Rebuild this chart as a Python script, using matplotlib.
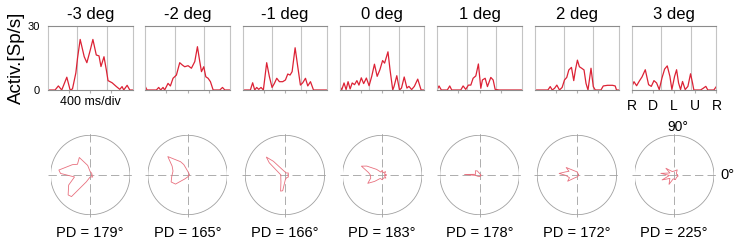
import numpy as np
import matplotlib.pyplot as plt
from matplotlib.patches import Circle

plt.rcParams['font.family'] = ['Liberation Sans', 'DejaVu Sans']

titles = ['-3 deg', '-2 deg', '-1 deg', '0 deg', '1 deg', '2 deg', '3 deg']
pd_deg = [179, 165, 166, 183, 178, 172, 225]
dir_labels = ['R', 'D', 'L', 'U', 'R']

# firing rate traces: time (ms) and rate (Sp/s)
t_m3 = [0, 96, 141, 187, 256, 301, 333, 379, 402, 438, 493, 529, 575, 611, 657, 694, 721, 762, 794, 817, 872, 931, 977, 1008, 1031, 1077, 1113, 1150]
rate_m3 = [0, 0, 1.9, 0, 6, 0, 0.5, 8, 15, 23.7, 15.6, 12.8, 18.7, 23.7, 16.4, 16, 11, 15.6, 9.4, 4.4, 3.4, 1.6, 0.3, 1.6, 0, 2.2, 0, 0]

t_m2 = [0, 23, 150, 182, 209, 241, 263, 309, 341, 377, 423, 468, 504, 536, 582, 627, 673, 709, 741, 764, 795, 823, 854, 886, 923, 1014, 1050, 1082, 1150]
rate_m2 = [1.6, 0, 0, 1.2, 0, 1.2, 0, 3.1, 1.9, 5.5, 7, 12.8, 11.7, 10.9, 11.4, 10.2, 13.3, 20.3, 13.3, 8.6, 10.9, 6.2, 5.5, 3.9, 0, 0, 1.2, 0, 0]

t_m1 = [0, 105, 136, 164, 191, 218, 250, 282, 327, 364, 400, 432, 464, 500, 545, 582, 614, 645, 673, 714, 750, 786, 818, 855, 886, 923, 964, 1150]
rate_m1 = [0, 0, 3.4, 0, 1.2, 0.3, 1.2, 0, 12.8, 6.2, 1.2, 3.1, 5.5, 3.9, 3.9, 4.7, 7.5, 7, 8.6, 19.8, 10.9, 2.3, 3.4, 5.5, 1.9, 3.9, 0, 0]

t_0 = [0, 23, 55, 83, 110, 138, 166, 198, 230, 258, 290, 322, 359, 396, 432, 469, 506, 543, 580, 607, 653, 681, 718, 736, 773, 810, 837, 874, 911, 938, 975, 1012, 1058, 1104, 1150]
rate_0 = [1.7, 0, 3.3, 0.2, 3.9, 0.5, 3.3, 2.5, 4.4, 2.3, 5.7, 3.0, 5.6, 2.0, 6.4, 12.1, 6.4, 9.5, 13.8, 12.6, 17.9, 9.5, 0, 1.7, 6.7, 0, 0.9, 6.1, 0.9, 1.7, 0.2, 1.7, 5.1, 0, 0]

t_p1 = [0, 23, 55, 136, 169, 196, 319, 351, 387, 423, 456, 487, 524, 559, 592, 614, 651, 682, 728, 760, 787, 841, 1150]
rate_p1 = [0.3, 1.9, 0, 0, 1.9, 0, 0, 1.9, 0.3, 2.3, 2.3, 5.5, 6.6, 12.2, 0.8, 4.7, 5.5, 1.6, 5.9, 4.7, 0.3, 0, 0]

t_p2 = [0, 180, 212, 239, 271, 302, 338, 374, 406, 437, 465, 501, 532, 555, 582, 609, 640, 672, 699, 726, 767, 798, 825, 902, 934, 992, 1060, 1096, 1114, 1150]
rate_p2 = [0, 0, 1.6, 0, 0.8, 2.3, 0, 1.2, 4.7, 5.9, 9.4, 10.6, 4.4, 9.4, 14, 10.9, 10.2, 9.4, 3.1, 0, 10.2, 1.6, 0, 0, 1.9, 2.2, 2.2, 1.9, 0, 0]

t_p3 = [0, 27, 63, 100, 136, 181, 226, 263, 299, 335, 371, 408, 444, 480, 516, 543, 580, 607, 634, 661, 688, 724, 761, 797, 824, 842, 933, 969, 1005, 1032, 1114, 1150]
rate_p3 = [1.7, 3.9, 2.0, 4.2, 6.1, 9.5, 2.5, 1.7, 4.4, 3.3, 0.2, 5.6, 9.8, 11.3, 6.4, 0.2, 6.4, 9.5, 3.3, 0.2, 4.0, 0.2, 1.7, 7.6, 3.3, 0, 0, 0.8, 1.7, 0, 0, 1.7]

# directional tuning (angle deg, normalised response)
dir_m3 = [0, 30, 60, 90, 105, 122, 140, 150, 171, 177, 187, 205, 222, 229, 240, 260, 290, 320, 345]
tune_m3 = [0.04, 0.05, 0.06, 0.08, 0.25, 0.52, 0.42, 0.52, 0.8, 0.75, 0.4, 0.6, 0.75, 0.72, 0.2, 0.06, 0.05, 0.08, 0.04]

dir_m2 = [0, 45, 90, 110, 118, 137, 150, 165, 185, 203, 217, 235, 270, 315]
tune_m2 = [0.04, 0.05, 0.1, 0.28, 0.38, 0.68, 0.45, 0.38, 0.4, 0.45, 0.38, 0.12, 0.05, 0.04]

dir_m1 = [0, 30, 60, 90, 115, 130, 136, 142, 155, 180, 210, 240, 255, 262, 275, 300, 330]
tune_m1 = [0.08, 0.1, 0.06, 0.08, 0.15, 0.45, 0.65, 0.5, 0.2, 0.1, 0.12, 0.2, 0.42, 0.4, 0.12, 0.08, 0.1]

dir_0 = [0, 20, 45, 70, 90, 115, 135, 150, 157, 170, 180, 195, 210, 220, 240, 270, 300, 320, 340]
tune_0 = [0.1, 0.06, 0.12, 0.06, 0.12, 0.08, 0.2, 0.45, 0.57, 0.35, 0.3, 0.3, 0.42, 0.25, 0.1, 0.12, 0.08, 0.12, 0.06]

dir_p1 = [0, 90, 120, 135, 150, 170, 178, 186, 210, 270, 320]
tune_p1 = [0.03, 0.04, 0.12, 0.15, 0.12, 0.1, 0.38, 0.1, 0.06, 0.04, 0.04]

dir_p2 = [0, 60, 90, 120, 145, 155, 165, 175, 182, 200, 214, 230, 270, 320]
tune_p2 = [0.04, 0.05, 0.08, 0.12, 0.33, 0.22, 0.3, 0.45, 0.28, 0.2, 0.28, 0.1, 0.05, 0.04]

dir_p3 = [0, 30, 60, 90, 120, 141, 155, 173, 185, 202, 218, 241, 255, 285, 315, 340]
tune_p3 = [0.08, 0.06, 0.15, 0.1, 0.1, 0.27, 0.12, 0.34, 0.12, 0.33, 0.14, 0.27, 0.1, 0.12, 0.08, 0.1]

times = [t_m3, t_m2, t_m1, t_0, t_p1, t_p2, t_p3]
rates = [rate_m3, rate_m2, rate_m1, rate_0, rate_p1, rate_p2, rate_p3]
dirs = [dir_m3, dir_m2, dir_m1, dir_0, dir_p1, dir_p2, dir_p3]
tunes = [tune_m3, tune_m2, tune_m1, tune_0, tune_p1, tune_p2, tune_p3]

W, H = 736, 241
fig = plt.figure(figsize=(W / 100, H / 100), dpi=100)

red = '#dc2235'
light_red = '#e8707e'
grey = '#a0a0a0'
x0, step, pw = 48, 97.33, 84.5

for i in range(7):
    left = x0 + i * step
    ax = fig.add_axes([left / W, (H - 90) / H, pw / W, 64 / H])
    ax.plot(times[i], rates[i], color=red, lw=0.9)
    ax.set_xlim(0, 1150)
    ax.set_ylim(0, 30)
    for g in [400, 800]:
        ax.axvline(g, color='#c4c4c4', lw=0.8, zorder=0)
    ax.spines['top'].set_color('#8c8c8c')
    ax.spines['bottom'].set_color('#8c8c8c')
    ax.spines['left'].set_color('#c4c4c4')
    ax.spines['right'].set_color('#c4c4c4')
    for s in ax.spines.values():
        s.set_linewidth(0.8)
    ax.set_xticks([287.5, 575, 862.5] if i < 6 else [0, 287.5, 575, 862.5, 1150])
    ax.tick_params(axis='x', length=2.5, color='#b0b0b0', labelsize=10, pad=4)
    if i == 6:
        ax.set_xticklabels(dir_labels)
    else:
        ax.set_xticklabels([])
    if i == 0:
        ax.set_yticks([0, 30])
        ax.tick_params(axis='y', length=0, labelsize=8, pad=6)
        ax.set_ylabel('Activ.[Sp/s]', fontsize=13.5, labelpad=2)
        ax.text(0.5, -0.09, '400 ms/div', transform=ax.transAxes,
                ha='center', va='top', fontsize=9)
    else:
        ax.set_yticks([])
    ax.set_title(titles[i], fontsize=12, pad=5)

    # tuning plot
    cx = left + pw / 2
    rad = 39.7
    pax = fig.add_axes([(cx - rad) / W, (H - 175 - rad) / H, 2 * rad / W, 2 * rad / H])
    th = np.deg2rad(dirs[i] + [dirs[i][0]])
    rr = np.array(tunes[i] + [tunes[i][0]])
    pax.plot(rr * np.cos(th), rr * np.sin(th), color=light_red, lw=0.6)
    pax.add_patch(Circle((0, 0), 1, fill=False, ec=grey, lw=0.6))
    pax.plot([-1.07, 1.07], [0, 0], color=grey, lw=0.6, dashes=(10, 5), zorder=0)
    pax.plot([0, 0], [-1.07, 1.07], color=grey, lw=0.6, dashes=(10, 5), zorder=0)
    pax.set_xlim(-1, 1)
    pax.set_ylim(-1, 1)
    pax.axis('off')
    for ln in pax.lines:
        ln.set_clip_on(False)
    fig.text(cx / W, (H - 233) / H, 'PD = %d°' % pd_deg[i],
             ha='center', va='center', fontsize=10.5)

fig.text(678 / W, (H - 127) / H, '90°', ha='center', va='center', fontsize=10)
fig.text(727 / W, (H - 175) / H, '0°', ha='center', va='center', fontsize=10.5)

fig.savefig('out.png', dpi=100)
